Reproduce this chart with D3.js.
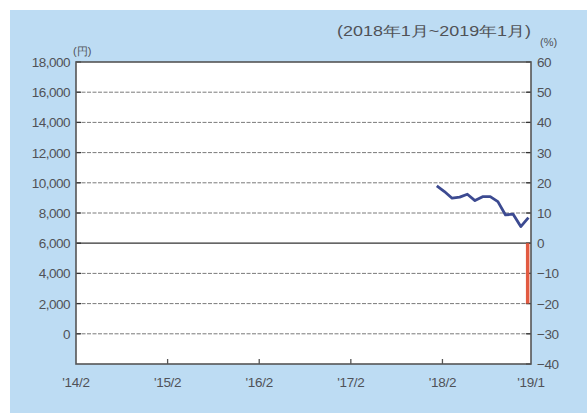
<!DOCTYPE html>
<html>
<head>
<meta charset="utf-8">
<script src="https://cdn.jsdelivr.net/npm/d3@7"></script>
<style>
body { margin:0; background:#fff; }
text { font-family:"Liberation Sans", Arial, sans-serif; fill:#505257; }
</style>
</head>
<body>
<div id="chart"></div>
<script>
// month index: 0 = 2014/2
var xTicks = [0, 12, 24, 36, 48];
var xTickLabels = ["'14/2", "'15/2", "'16/2", "'17/2", "'18/2"];
var xEndLabel = "'19/1";

var yenTicks = [0, 2000, 4000, 6000, 8000, 10000, 12000, 14000, 16000, 18000];
var pctTicks = [-40, -30, -20, -10, 0, 10, 20, 30, 40, 50, 60];

// 2018/1 .. 2019/1 price (yen)
var priceMonths = [47, 48, 49, 50, 51, 52, 53, 54, 55, 56, 57, 58, 59];
var priceValues = [9800, 9420, 8980, 9050, 9240, 8820, 9080, 9080, 8750, 7870, 7920, 7100, 7700];

// change over the period (%)
var changeMonth = 59;
var changeValue = -20;

var width = 587, height = 416;
var plotL = 76, plotR = 531, plotT = 62, plotB = 364;

var svg = d3.select("#chart").append("svg")
    .attr("width", width)
    .attr("height", height);

svg.append("rect")
    .attr("x", 10).attr("y", 10)
    .attr("width", width - 10).attr("height", 403)
    .attr("fill", "#bddcf3");

svg.append("rect")
    .attr("x", plotL).attr("y", plotT)
    .attr("width", plotR - plotL).attr("height", plotB - plotT)
    .attr("fill", "#fff");

var x = d3.scaleLinear().domain([0, 59.6]).range([plotL, plotR]);
var yYen = d3.scaleLinear().domain([-2000, 18000]).range([plotB, plotT]);
var yPct = d3.scaleLinear().domain([-40, 60]).range([plotB, plotT]);

// grid lines
svg.append("g").selectAll("line").data(yenTicks.filter(function(d){ return d != 6000 && d != 18000; })).enter().append("line")
    .attr("x1", plotL).attr("x2", plotR)
    .attr("y1", function(d){ return yYen(d); })
    .attr("y2", function(d){ return yYen(d); })
    .attr("stroke", "#7a7a7a")
    .attr("stroke-width", 1)
    .attr("stroke-dasharray", "4,1.5");

// small tick marks on both sides of grid lines
svg.append("g").selectAll("line").data(yenTicks).enter().append("line")
    .attr("x1", plotL).attr("x2", plotL + 5)
    .attr("y1", function(d){ return yYen(d); })
    .attr("y2", function(d){ return yYen(d); })
    .attr("stroke", "#333").attr("stroke-width", 1.3);
svg.append("g").selectAll("line").data(pctTicks).enter().append("line")
    .attr("x1", plotR - 5).attr("x2", plotR)
    .attr("y1", function(d){ return yPct(d); })
    .attr("y2", function(d){ return yPct(d); })
    .attr("stroke", "#333").attr("stroke-width", 1.3);

// zero line
svg.append("line")
    .attr("x1", plotL).attr("x2", plotR)
    .attr("y1", yPct(0)).attr("y2", yPct(0))
    .attr("stroke", "#333").attr("stroke-width", 1.3);

// bottom ticks
svg.append("g").selectAll("line").data(xTicks.slice(1)).enter().append("line")
    .attr("x1", function(d){ return x(d); })
    .attr("x2", function(d){ return x(d); })
    .attr("y1", plotB).attr("y2", plotB - 5)
    .attr("stroke", "#555").attr("stroke-width", 1.3);

// red bar
svg.append("rect")
    .attr("x", x(changeMonth) - 0.5)
    .attr("y", yPct(0))
    .attr("width", 3.5)
    .attr("height", yPct(changeValue) - yPct(0))
    .attr("fill", "#e25a41");

// price line
var line = d3.line()
    .x(function(d, i){ return x(priceMonths[i]) + 2; })
    .y(function(d){ return yYen(d); });

svg.append("path")
    .datum(priceValues)
    .attr("d", line)
    .attr("fill", "none")
    .attr("stroke", "#3c4a91")
    .attr("stroke-width", 2.8)
    .attr("stroke-linejoin", "round");

// frame
svg.append("rect")
    .attr("x", plotL).attr("y", plotT)
    .attr("width", plotR - plotL).attr("height", plotB - plotT)
    .attr("fill", "none")
    .attr("stroke", "#555")
    .attr("stroke-width", 1.6);

// axis labels
svg.append("g").selectAll("text").data(yenTicks).enter().append("text")
    .attr("x", 70)
    .attr("y", function(d){ return yYen(d) + 5; })
    .attr("text-anchor", "end")
    .style("font-size", "13.5px")
    .attr("letter-spacing", "-0.5")
    .text(function(d){ return d3.format(",")(d); });

svg.append("g").selectAll("text").data(pctTicks).enter().append("text")
    .attr("x", 537)
    .attr("y", function(d){ return yPct(d) + 5; })
    .style("font-size", "13.5px")
    .attr("letter-spacing", "-0.5")
    .text(function(d){ return d < 0 ? "\u2212" + Math.abs(d) : d; });

svg.append("g").selectAll("text").data(xTicks).enter().append("text")
    .attr("x", function(d){ return x(d); })
    .attr("y", 387)
    .attr("text-anchor", "middle")
    .style("font-size", "13.5px")
    .attr("letter-spacing", "-0.3")
    .text(function(d, i){ return xTickLabels[i]; });

svg.append("text")
    .attr("x", plotR)
    .attr("y", 387)
    .attr("text-anchor", "middle")
    .style("font-size", "13.5px")
    .attr("letter-spacing", "-0.3")
    .text(xEndLabel);

svg.append("text")
    .attr("x", 73).attr("y", 55)
    .style("font-size", "11px")
    .text("(円)");

svg.append("text")
    .attr("x", 540).attr("y", 46)
    .style("font-size", "11px")
    .text("(%)");

svg.append("text")
    .attr("x", 337).attr("y", 36)
    .style("font-size", "14px")
    .attr("textLength", 194)
    .attr("lengthAdjust", "spacingAndGlyphs")
    .text("(2018年1月~2019年1月)");
</script>
</body>
</html>
